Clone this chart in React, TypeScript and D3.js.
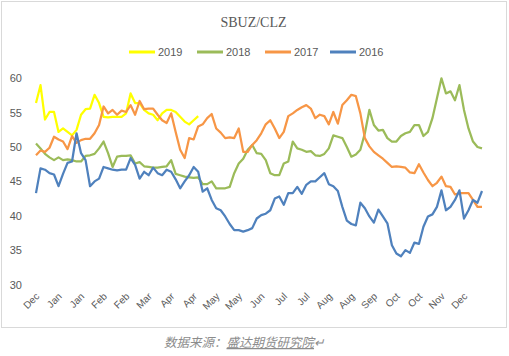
import React from "react";
import * as d3 from "d3";

const seriesNames = ["2019", "2018", "2017", "2016"];
const seriesColors = ["#FFFF00", "#9BBB59", "#F79646", "#4F81BD"];

const xLabels = ["Dec", "Jan", "Jan", "Feb", "Feb", "Mar", "Apr", "Apr", "May", "May", "Jun", "Jul", "Jul", "Aug", "Aug", "Sep", "Oct", "Oct", "Nov", "Dec"];
const yTicks = [30, 35, 40, 45, 50, 55, 60];

const s2019 = [56.4, 59.0, 54.0, 55.1, 55.1, 52.2, 52.7, 52.2, 51.7, 52.5, 54.7, 55.5, 55.6, 57.6, 56.4, 54.4, 54.3, 54.4, 54.4, 54.4, 54.9, 57.8, 56.4, 56.4, 55.4, 54.9, 54.7, 53.9, 54.9, 55.4, 55.4, 55.1, 54.4, 53.7, 53.3, 53.9, 54.5];

const s2018 = [50.5, 49.8, 49.0, 48.5, 48.1, 48.5, 48.1, 48.2, 48.1, 47.9, 47.9, 48.7, 48.8, 49.0, 49.8, 50.8, 49.1, 47.1, 48.6, 48.7, 48.7, 48.8, 47.6, 47.8, 47.2, 47.1, 47.0, 47.0, 47.1, 47.2, 48.1, 46.1, 45.9, 45.7, 45.6, 45.5, 45.6, 44.6, 44.6, 45.0, 44.0, 44.0, 44.0, 44.2, 46.2, 47.6, 48.3, 49.6, 50.3, 49.1,
  49.0, 48.1, 46.2, 45.9, 45.9, 47.6, 47.9, 50.8, 49.8, 49.6, 49.3, 49.4, 48.8, 48.7, 49.0, 49.8, 51.7, 51.5, 51.3, 50.0, 48.6, 48.9, 49.6, 52.0, 55.4, 53.2, 52.4, 52.5, 51.3, 50.8, 50.8, 51.6, 52.0, 52.2, 53.2, 53.2, 51.6, 52.2, 54.2, 57.1, 60.0, 57.8, 58.1, 56.8, 59.0, 55.4, 52.7, 50.8, 50.0, 49.8];

const s2017 = [48.8, 49.5, 49.3, 49.9, 51.5, 51.1, 50.8, 49.7, 51.6, 50.6, 51.0, 51.2, 51.2, 52.0, 53.2, 55.9, 54.9, 55.4, 54.7, 55.3, 55.1, 56.1, 54.7, 56.7, 55.5, 55.6, 55.6, 54.7, 53.9, 53.5, 54.9, 52.2, 49.6, 48.4, 51.3, 51.1, 53.0, 53.3, 54.2, 54.8, 52.7, 52.1, 51.3, 51.4, 51.3, 52.7, 49.3, 49.3, 50.3, 51.0,
  52.0, 53.3, 53.9, 52.7, 51.3, 52.2, 54.5, 54.9, 55.4, 55.8, 56.1, 55.6, 54.2, 54.7, 54.5, 53.3, 55.1, 53.4, 56.1, 56.8, 57.6, 57.4, 54.9, 51.3, 50.1, 49.3, 48.8, 48.3, 47.7, 47.1, 47.2, 47.1, 47.0, 46.3, 46.2, 47.5, 46.3, 45.2, 44.3, 44.8, 45.7, 44.3, 44.2, 43.1, 43.3, 43.3, 43.3, 42.3, 41.3, 41.3];

const s2016 = [43.3, 46.9, 46.7, 46.2, 46.0, 44.3, 46.1, 47.7, 47.9, 52.0, 49.1, 48.1, 44.3, 45.0, 45.4, 47.1, 46.9, 46.7, 46.6, 46.7, 46.7, 48.4, 47.4, 45.4, 46.4, 45.9, 47.0, 46.2, 45.9, 46.7, 46.4, 45.3, 44.0, 45.0, 45.9, 47.1, 46.4, 43.5, 44.0, 42.3, 41.1, 40.8, 39.9, 38.8, 37.9, 37.9, 37.7, 37.9, 38.2, 39.6,
  40.1, 40.3, 40.8, 42.5, 42.8, 41.6, 43.3, 43.3, 44.2, 43.2, 44.5, 45.0, 45.0, 45.6, 46.2, 44.6, 44.3, 43.6, 41.3, 39.3, 38.8, 38.6, 41.9, 41.1, 39.9, 39.0, 40.9, 39.9, 38.9, 35.7, 34.5, 34.1, 35.0, 34.6, 36.1, 35.9, 38.4, 39.9, 40.2, 41.3, 43.7, 40.8, 41.3, 42.3, 43.7, 39.6, 40.8, 42.3, 41.9, 43.6];

const seriesData = [s2019, s2018, s2017, s2016];

const N = 100;
const LABEL_EVERY = 5;

export default function App() {
  const W = 509;
  const H = 356;
  const x = d3.scaleLinear().domain([0, N - 1]).range([36, 482]);
  const y = d3.scaleLinear().domain([30, 60]).range([284.5, 78.3]);
  const line = d3
    .line<number>()
    .x((_, i) => x(i))
    .y((d) => y(d));

  const textColor = "#595959";
  const legendItems = [
    { lx: 129, tx: 158 },
    { lx: 197, tx: 226 },
    { lx: 265, tx: 294 },
    { lx: 330, tx: 359 },
  ];

  return (
    <svg
      width={W}
      height={H}
      style={{ position: "absolute", left: 0, top: 0, background: "#fff" }}
      fontFamily="'Liberation Sans', Arial, sans-serif"
    >
      <rect x={0} y={0} width={W} height={H} fill="#fff" />
      <rect x={1.5} y={1.5} width={505} height={326} fill="#fff" stroke="#d9d9d9" strokeWidth={1} />
      <text x={253.5} y={27} textAnchor="middle" fontFamily="'Liberation Serif', 'Times New Roman', serif" fontSize={14} fill={textColor}>
        SBUZ/CLZ
      </text>
      {seriesNames.map((name, k) => (
        <g key={name}>
          <line x1={legendItems[k].lx} x2={legendItems[k].lx + 26} y1={52} y2={52} stroke={seriesColors[k]} strokeWidth={3} />
          <text x={legendItems[k].tx} y={56} fontSize={11} fill={textColor}>
            {name}
          </text>
        </g>
      ))}
      {yTicks.map((t) => (
        <text key={t} x={22} y={y(t) + 4} textAnchor="end" fontSize={11} fill={textColor}>
          {t}
        </text>
      ))}
      {xLabels.map((lab, k) => {
        const px = x(k * LABEL_EVERY);
        return (
          <text
            key={k}
            transform={`translate(${px + 4},${297}) rotate(-45)`}
            textAnchor="end"
            fontSize={10}
            fill={textColor}
          >
            {lab}
          </text>
        );
      })}
      {seriesData.map((d, k) => (
        <path key={k} d={line(d) || ""} fill="none" stroke={seriesColors[k]} strokeWidth={2.25} strokeLinejoin="round" />
      ))}
      <text x={244} y={347} textAnchor="middle" fontSize={12.5} fontStyle="italic" fill="#8c8c8c" fontFamily="'Noto Sans CJK SC', sans-serif">
        数据来源：<tspan textDecoration="underline">盛达期货研究院</tspan>↵
      </text>
    </svg>
  );
}
